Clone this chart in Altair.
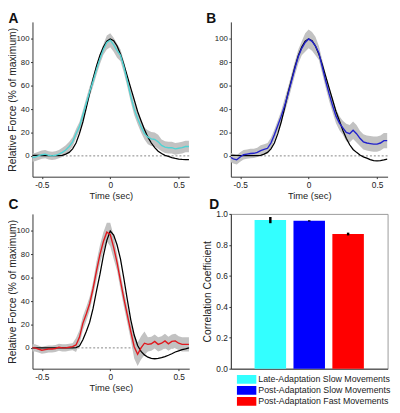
import altair as alt
import pandas as pd

FONT = "Liberation Sans"
TXT = "#222222"

# ---------------- data ----------------
time = [-0.575, -0.55, -0.525, -0.5, -0.475, -0.45, -0.425, -0.4, -0.375, -0.35,
        -0.325, -0.3, -0.275, -0.25, -0.225, -0.2, -0.175, -0.15, -0.125, -0.1,
        -0.075, -0.05, -0.025, 0.0, 0.025, 0.05, 0.075, 0.1, 0.125, 0.15,
        0.175, 0.2, 0.225, 0.25, 0.275, 0.3, 0.325, 0.35, 0.375, 0.4,
        0.425, 0.45, 0.475, 0.5, 0.525, 0.55, 0.575]

a_ideal = [0.5, 0.5, 0.4, 0.3, 0.3, 0.2, 0.2, 0.2, 0.3, 0.5,
           1.5, 3, 6, 11, 19, 29, 41, 54, 66, 77,
           86, 93, 98, 100, 98.5, 94, 87, 78, 68, 58,
           48, 38, 30, 22.5, 16, 11, 7, 4, 2, 0.5,
           -0.5, -1.5, -2.2, -2.7, -3, -3.2, -3.3]
a_mean = [-1.5, -1, 0, 1, 1.5, 0.5, 0, 0.5, 1.5, 3,
          5, 8, 12, 19, 25, 35, 45, 55, 64, 74,
          83, 91, 97, 99, 95, 90, 86, 76, 64, 51,
          40, 32, 25, 19, 16, 14.5, 14, 12, 9, 7.5,
          7, 7, 6, 6.5, 7, 8, 8]
a_sd = [3.5, 3.5, 3.5, 3.5, 3.5, 3.5, 3.5, 3.5, 3.5, 4,
        4, 4, 4, 4, 4, 4, 4.5, 4.5, 4.5, 4.5,
        4.5, 4.5, 6, 6, 6, 6, 5, 5, 5, 5,
        5, 5, 5, 5, 6, 6, 6, 6, 5, 5,
        5, 5, 5, 5, 5, 5, 5]

b_ideal = [0.5, 0.5, 0.4, 0.3, 0.3, 0.2, 0.2, 0.2, 0.3, 0.5,
           1.5, 3, 6, 11, 19, 29, 41, 54, 65, 76,
           86, 93, 98, 100, 98.5, 94, 87, 78, 68, 58,
           48, 38, 30, 22, 15, 9.5, 5.5, 3, 0.8, -0.8,
           -2, -3.2, -4, -4.3, -4.1, -3.5, -2.8]
b_mean = [-1, -2.5, -3.4, -1, 1, 1.5, 2, 2.2, 3, 4.5,
          5.5, 6.5, 11, 18, 26, 34, 43, 53, 64, 75,
          85, 92, 97, 100, 98, 94, 88, 76, 64, 53,
          43, 34, 28, 24, 20, 19, 22, 19, 15, 12,
          11, 10.5, 10, 10, 11, 13, 13]
b_sd = [4, 4, 4, 4, 4, 4, 4, 4, 4, 4.5,
        4.5, 4.5, 4.5, 4.5, 4.5, 4.5, 6, 6, 6, 6,
        6, 6, 8, 8, 8, 8, 6, 6, 6, 6,
        6, 6, 6, 6, 7.5, 7.5, 7.5, 7.5, 6.5, 6.5,
        6.5, 6.5, 6.5, 6.5, 6.5, 6.5, 6.5]

c_ideal = [0, 0, 0, 0, 0, 0, 0, 0, 0, 0,
           0, 0, 0, 0.3, 1.5, 7, 14, 22, 34, 49,
           63, 79, 92, 100, 96.5, 88, 76, 59, 41, 24,
           11, 2, -3, -6, -8, -9, -9.3, -9, -8.4, -7.5,
           -6.3, -5, -3.5, -2.5, -1.5, -0.8, 0]
c_mean = [0, 0, -1, -2, -1.5, -1, -1, -0.5, 0.5, 0,
          0, 0.5, 1, 2.5, 9, 21, 29, 38, 51, 66,
          80, 91, 99, 97, 86, 73, 57, 42, 28, 14,
          1, -5.5, 0, 4, 3, 3.5, 5.5, 3, 4, 6,
          3.5, 5.5, 6, 4, 3, 3, 3]
c_sd = [3, 3, 3, 3, 3, 3, 3, 3, 3, 3,
        3, 3, 3, 6, 6, 6, 6, 6, 6, 8,
        8, 8, 8, 10, 10, 7, 7, 7, 7, 7,
        10, 10, 10, 10, 6, 6, 6, 6, 6, 6,
        6, 6, 6, 6, 6, 6, 6]

bar_labels = ["Late-Adaptation Slow Movements",
              "Post-Adaptation Slow Movements",
              "Post-Adaptation Fast Movements"]
bar_values = [0.96, 0.955, 0.87]
bar_errors = [0.02, 0.004, 0.009]
bar_colors = ["#33ffff", "#0000ff", "#ff0000"]

x_ticks = [-0.5, 0, 0.5]
y_ticks = [0, 20, 40, 60, 80, 100]
r_ticks = [0.0, 0.2, 0.4, 0.6, 0.8, 1.0]

# ---------------- layout constants ----------------
W, H = 160, 158
COL_GAP, ROW_GAP = 42.5, 38
X_DOM = [-0.568, 0.577]
Y_DOM = [-17.8, 114.6]


def x_enc():
    return alt.X("t:Q",
                 scale=alt.Scale(domain=X_DOM, nice=False, zero=False),
                 axis=alt.Axis(values=x_ticks, title="Time (sec)",
                               labelExpr="datum.value < 0 ? '-' + format(-datum.value, '.1~f') : format(datum.value, '.1~f')",
                               labelFontSize=8.5, titleFontSize=9.5,
                               tickSize=2, labelPadding=2, titlePadding=2))


def y_enc(field, ytitle):
    ax = alt.Axis(values=y_ticks, title=ytitle, labelFontSize=8,
                  titleFontSize=10.5, tickSize=2, labelPadding=1.5,
                  titlePadding=-2)
    return alt.Y(field, scale=alt.Scale(domain=Y_DOM, nice=False, zero=False), axis=ax)


def panel(letter, ideal, mean, sd, color, ytitle, lx, ly):
    df = pd.DataFrame({
        "t": time,
        "ideal": ideal,
        "mean": mean,
        "lo": [m - s for m, s in zip(mean, sd)],
        "hi": [m + s for m, s in zip(mean, sd)],
    })
    base = alt.Chart(df)
    zero = alt.Chart(pd.DataFrame({"zero": [0]})).mark_rule(
        color="#777777", strokeDash=[2, 2], strokeWidth=0.9
    ).encode(y=y_enc("zero:Q", ytitle))
    band = base.mark_area(color="#c2c2c2", opacity=1, clip=True).encode(
        x=x_enc(), y=y_enc("lo:Q", ytitle), y2="hi:Q")
    ideal_line = base.mark_line(color="#000000", strokeWidth=1.3, clip=True).encode(
        x=x_enc(), y=y_enc("ideal:Q", ytitle))
    mean_line = base.mark_line(color=color, strokeWidth=1.4, clip=True).encode(
        x=x_enc(), y=y_enc("mean:Q", ytitle))
    lab = alt.Chart(pd.DataFrame({"label": [letter]})).mark_text(
        fontSize=14, fontWeight="bold", align="left", baseline="top", font=FONT, color="#111111"
    ).encode(text="label:N", x=alt.value(lx), y=alt.value(ly))
    return alt.layer(zero, band, ideal_line, mean_line, lab).properties(width=W, height=H)


pA = panel("A", a_ideal, a_mean, a_sd, "#4fd3d3", "Relative Force (% of maximum)", -24.5, -10)
pB = panel("B", b_ideal, b_mean, b_sd, "#2222cc", None, -25, -10)
pC = panel("C", c_ideal, c_mean, c_sd, "#e0181e", "Relative Force (% of maximum)", -24.5, -16)

# ---------------- panel D ----------------
bars_df = pd.DataFrame({
    "cond": bar_labels,
    "r": bar_values,
    "lo": [v - e for v, e in zip(bar_values, bar_errors)],
    "hi": [v + e for v, e in zip(bar_values, bar_errors)],
})
xD = alt.X("cond:N", sort=bar_labels,
           scale=alt.Scale(paddingInner=0.19, paddingOuter=0.61),
           axis=alt.Axis(labels=False, ticks=False, title=None, domain=True))


def yD(field):
    return alt.Y(field, scale=alt.Scale(domain=[0, 1], nice=False),
                 axis=alt.Axis(values=r_ticks, format=".1f", title="Correlation Coefficient",
                               labelFontSize=8.5, titleFontSize=10.5, tickSize=2,
                               labelPadding=1.5, titlePadding=3, labelOverlap=False))


bars = alt.Chart(bars_df).mark_bar().encode(
    x=xD, y=yD("r:Q"),
    color=alt.Color("cond:N",
                    scale=alt.Scale(domain=bar_labels, range=bar_colors),
                    legend=alt.Legend(title=None, orient="none",
                                      legendX=W + COL_GAP + 6, legendY=H + ROW_GAP + 164,
                                      symbolType="M-1,-0.45H1V0.45H-1Z", symbolSize=400,
                                      symbolStrokeWidth=0, symbolOpacity=1,
                                      clipHeight=10, rowPadding=1.2,
                                      labelFontSize=9, labelOffset=2, padding=0,
                                      labelColor=TXT, labelFont=FONT, labelLimit=300)))
errs = alt.Chart(bars_df).mark_rule(color="#000000", strokeWidth=2.5).encode(
    x=xD, y=yD("lo:Q"), y2="hi:Q")
labD = alt.Chart(pd.DataFrame({"label": ["D"]})).mark_text(
    fontSize=14, fontWeight="bold", align="left", baseline="top", font=FONT, color="#111111"
).encode(text="label:N", x=alt.value(-22), y=alt.value(-16))
pD = alt.layer(bars, errs, labD).properties(
    width=W, height=H, view=alt.ViewBackground(stroke="#9a9a9a", strokeWidth=1))

chart = alt.concat(pA, pB, pC, pD, columns=2, spacing={"row": ROW_GAP, "column": COL_GAP},
                   bounds="flush").properties(
    padding={"left": 0, "top": 0, "right": 0, "bottom": 0}
).configure(font=FONT).configure_view(strokeWidth=0).configure_axis(
    grid=False, domainColor="#333333", tickColor="#333333",
    labelColor=TXT, titleColor=TXT, labelFont=FONT, titleFont=FONT,
    titleFontWeight="normal", domainWidth=1
)

chart.save("out.html", embed_options={"renderer": "svg", "actions": False})
